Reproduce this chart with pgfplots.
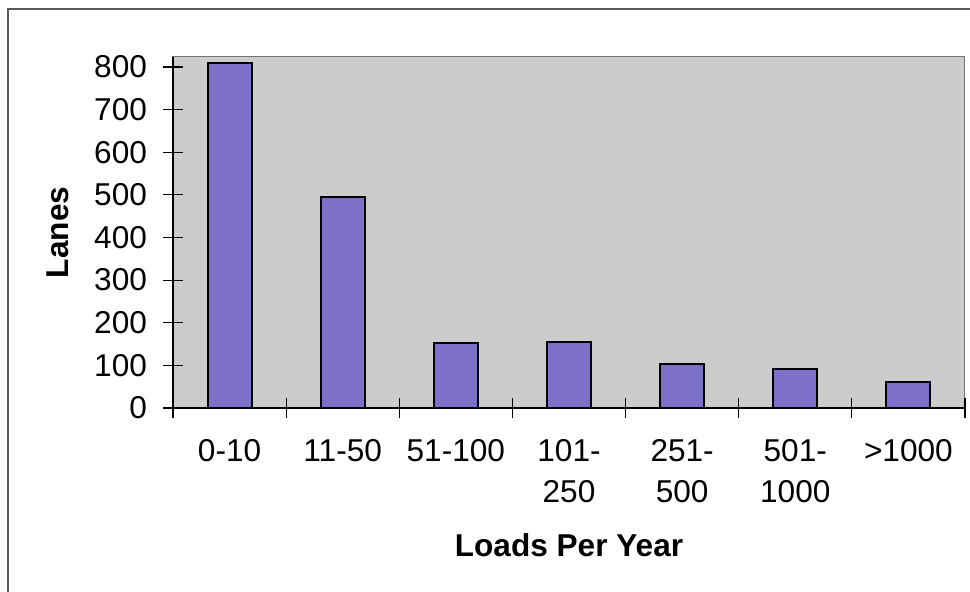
\documentclass[border=0pt]{standalone}
\usepackage{fontspec}
\setmainfont{Liberation Sans}
\usepackage{pgfplots}
\pgfplotsset{compat=1.18}
\definecolor{barfill}{RGB}{125,112,200}
\definecolor{plotbg}{RGB}{204,204,204}
\begin{document}
\begin{tikzpicture}
\useasboundingbox (0,0) rectangle (485pt,296pt);
\draw[black!65, line width=0.6pt] (4pt,0) -- (4pt,291.5pt) -- (485pt,291.5pt);
\begin{axis}[
  at={(86.5pt,92pt)}, anchor=south west,
  scale only axis,
  width=396pt, height=175.5pt,
  xmin=-0.5, xmax=6.5,
  ymin=0, ymax=823.5,
  axis x line=bottom, axis y line=left,
  axis line style={-, black, line width=0.6pt},
  axis background/.style={fill=plotbg, draw=black!55, line width=0.5pt},
  tick align=center,
  major tick length=10pt,
  tick style={black, line width=0.6pt},
  ytick={0,100,...,800},
  xtick={-0.5,0.5,...,6.5},
  xticklabels={},
  extra x ticks={0,1,2,3,4,5,6},
  extra x tick labels={0-10,11-50,51-100,101-\\250,251-\\500,501-\\1000,>1000},
  extra x tick style={major tick length=0pt, tick style={draw=none}},
  /pgf/number format/assume math mode=true,
  tick label style={font=\fontsize{15.8}{20.5}\selectfont},
  xticklabel style={align=center, anchor=north, yshift=-12pt},
  yticklabel style={anchor=east, xshift=-4.5pt},
  xlabel={Loads Per Year},
  ylabel={Lanes},
  label style={font=\fontsize{15.8}{18}\selectfont\bfseries},
  xlabel style={at={(axis description cs:0.5,-0.424)}, anchor=base},
  ylabel style={at={(axis description cs:-0.145,0.5)}, anchor=center, rotate=0},
  clip=false,
]
\addplot[ybar, bar width=22pt, fill=barfill, draw=black, line width=1pt]
  coordinates {(0,810) (1,495) (2,153) (3,155) (4,103) (5,91) (6,61)};
\end{axis}
\end{tikzpicture}
\end{document}
